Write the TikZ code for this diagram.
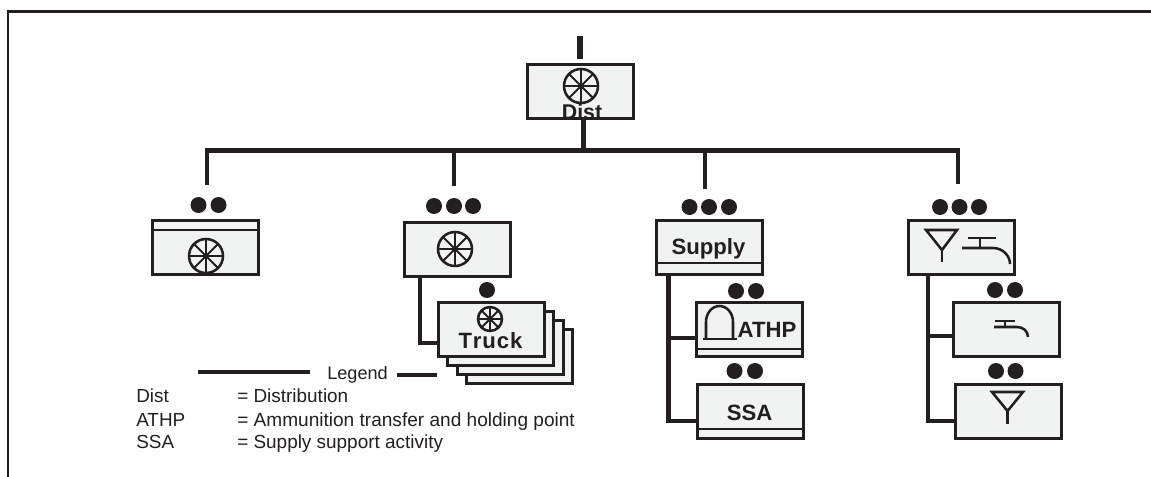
\documentclass[tikz,border=0pt]{standalone}
\usepackage{fontspec}
\setmainfont{Liberation Sans}
\definecolor{ink}{HTML}{231F20}
\definecolor{boxfill}{HTML}{F1F3F3}
\tikzset{
  x=0.75pt,y=-0.75pt,
  unitbox/.style={draw=ink,line width=2pt,fill=boxfill,rectangle,inner sep=0pt,outer sep=0pt,minimum width=79.5pt,minimum height=40.5pt,anchor=north west,xshift=0.9pt,yshift=-0.9pt},
  conn/.style={draw=ink,line width=3.5pt},
  rule/.style={draw=ink,line width=1.8pt},
  sym/.style={draw=ink,line width=1.9pt},
  lab/.style={inner sep=0pt,text=ink,anchor=base,font=\fontsize{16.6pt}{18pt}\selectfont\bfseries},
  legtext/.style={inner sep=0pt,text=ink,anchor=base west,font=\fontsize{14.2pt}{16pt}\selectfont},
}
\newcommand{\wheelsym}[3]{%
  \draw[sym] (#1,#2) circle[radius=#3*0.75pt];
  \foreach \a in {0,45,...,315}{\draw[draw=ink,line width=1.5pt] (#1,#2) -- ++(\a:#3*0.75pt);}
  \fill[ink] (#1,#2) circle[radius=2pt];
}
\newcommand{\dotsym}[2]{\fill[ink] (#1,#2) circle[radius=6pt];}
\begin{document}
\begin{tikzpicture}
\useasboundingbox (0,0) rectangle (1151,477);
\fill[white] (0,0) rectangle (1151,477);
\draw[draw=ink,line width=2.2pt] (8,477) -- (8,11.5) -- (1151,11.5);
% connector stubs
\coordinate (stub) at (580,36);
\coordinate (stubend) at (580,59);
\draw[conn,line width=5pt] (stub) -- (stubend);
% connectors that sit under the boxes
\coordinate (busL) at (207,150.5);
\coordinate (busR) at (958,150.5);
\draw[conn] (207,185) -- (busL) -- (busR) -- (958,184);
\draw[conn] (454,150.5) -- (454,186);
\draw[conn] (705,150.5) -- (705,189);
% boxes
\node[unitbox] (top) at (526,63) {};
\node[unitbox] (b1) at (151,219) {};
\node[unitbox] (b2) at (403,221) {};
\node[unitbox] (b3) at (655,219) {};
\node[unitbox] (b4) at (907,219) {};
\foreach \i/\dx/\dy in {3/28.5/27,2/19/18,1/9.5/9}{
  \node[unitbox] (t\i) at (437+\dx,301+\dy) {};
}
\node[unitbox] (truck) at (437,301) {};
\node[unitbox] (athp) at (695,301) {};
\node[unitbox] (ssa) at (696,383) {};
\node[unitbox] (tapb) at (952,301) {};
\node[unitbox] (antb) at (954,383) {};
% connectors
\draw[conn] ([xshift=2.25pt]top.south) -- ([xshift=2.25pt]top.south |- busL);
\draw[conn] (b2.south -| 420,0) |- (truck.west |- 0,343);
\draw[conn] (b3.south -| 668.5,0) |- (ssa.west |- 0,421);
\draw[conn] (668.5,338) -- (athp.west |- 0,338);
\draw[conn] (b4.south -| 928,0) |- (antb.west |- 0,421);
\draw[conn] (928,336) -- (tapb.west |- 0,336);
% rules
\draw[rule] (151,230) -- (259,230);
\draw[rule] (655,263) -- (762,263);
\draw[rule] (695,349) -- (803,349);
\draw[rule] (696,429) -- (804,429);
% dots
\dotsym{198.5}{205}\dotsym{218.5}{205}
\dotsym{434}{206}\dotsym{454}{206}\dotsym{473}{206}
\dotsym{487}{290}
\dotsym{689.5}{207}\dotsym{709}{207}\dotsym{729}{207}
\dotsym{736}{291}\dotsym{756}{291}
\dotsym{734.5}{371}\dotsym{755}{371}
\dotsym{940}{207}\dotsym{959.5}{207}\dotsym{979}{207}
\dotsym{995}{290}\dotsym{1015}{290}
\dotsym{996}{371}\dotsym{1015.5}{371}
% wheels
\wheelsym{581}{86}{17}
\wheelsym{206}{256}{17}
\wheelsym{455}{249}{17}
\wheelsym{490}{319}{12}
% labels
\node[lab,font=\fontsize{16pt}{18pt}\selectfont\bfseries] (ldist) at (582,120) {Dist};
\node[lab] (ltruck) at (490.5,348) {T\kern0.7pt r\kern0.7pt u\kern0.7pt c\kern0.7pt k};
\node[lab] (lsup) at (708.5,254) {Supply};
\node[lab] (lathp) at (767,337) {ATHP};
\node[lab] (lssa) at (749.5,420) {SSA};
% ATHP dome
\draw[sym] (703,339) -- (737,339);
\draw[sym] (706,339) -- (706,322) arc[start angle=180,end angle=0,x radius=13.5*0.75pt,y radius=16*0.75pt] -- (733,339);
% antenna + tap in b4
\draw[sym] (926,230) -- (957,230) -- (942,250) -- cycle;
\draw[sym] (942,250) -- (942,262);
\draw[sym] (968,238) -- (996,238);
\draw[sym] (980,238) -- (980,248);
\draw[sym] (962,248) -- (993,248) .. controls (1003,248) and (1010,256) .. (1010,264);
% small tap
\draw[sym] (995,321) -- (1015,321);
\draw[sym] (1005,321) -- (1005,327);
\draw[sym] (994,327) -- (1017,327) .. controls (1023,327) and (1028,331) .. (1028,337);
% small antenna
\draw[sym] (992,392) -- (1023,392) -- (1007.5,411) -- cycle;
\draw[sym] (1007.5,411) -- (1007.5,424);
% legend
\coordinate (lg1a) at (198,372);
\coordinate (lg1b) at (310,372);
\coordinate (lg2a) at (397,374.5);
\coordinate (lg2b) at (437,374.5);
\draw[conn,line width=3pt] (lg1a) -- (lg1b);
\draw[conn,line width=3pt] (lg2a) -- (lg2b);
\node[legtext,font=\fontsize{13.6pt}{16pt}\selectfont] (lgd) at (327,379) {Legend};
\node[legtext] (k1) at (136,402.7) {Dist};
\node[legtext] (v1) at (237,402.7) {= Distribution};
\node[legtext] (k2) at (136,426) {ATHP};
\node[legtext,font=\fontsize{14.3pt}{16pt}\selectfont] (v2) at (237,426) {= Ammunition transfer and holding point};
\node[legtext] (k3) at (136,448.7) {SSA};
\node[legtext] (v3) at (237,448.7) {= Supply support activity};
\end{tikzpicture}
\end{document}
